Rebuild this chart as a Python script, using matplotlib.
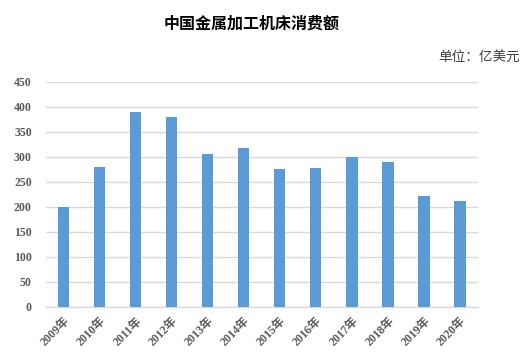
import matplotlib
matplotlib.use("Agg")
import matplotlib.pyplot as plt

years = ["2009年", "2010年", "2011年", "2012年", "2013年", "2014年",
         "2015年", "2016年", "2017年", "2018年", "2019年", "2020年"]
values = [200, 280, 389, 379, 305, 318, 275, 278, 300, 290, 222, 212]
y_ticks = [0, 50, 100, 150, 200, 250, 300, 350, 400, 450]

title = "中国金属加工机床消费额"
unit = "单位：亿美元"

fam = ["Liberation Serif", "Noto Sans CJK SC"]

fig = plt.figure(figsize=(5.23, 3.58), dpi=100)
ax = fig.add_axes([0.0874, 0.1433, 0.8266, 0.6277])

x = range(len(years))
ax.bar(x, values, width=0.31, color="#5B9BD5", zorder=3)

ax.set_xlim(-0.5, len(years) - 0.5)
ax.set_ylim(0, 450)
ax.set_yticks(y_ticks)
ax.set_yticklabels([str(v) for v in y_ticks], family=fam, fontsize=8.5,
                   fontweight="bold", color="#595959")
ax.set_xticks(list(x))
ax.set_xticklabels(years, family=fam, fontsize=8.5, fontweight="bold",
                   color="#595959", rotation=45, ha="right",
                   rotation_mode="anchor")
ax.tick_params(axis="both", length=0)
ax.tick_params(axis="y", pad=10)
ax.tick_params(axis="x", pad=6)

ax.grid(axis="y", color="#D9D9D9", linewidth=1.0, zorder=0)
for s in ["top", "right", "left"]:
    ax.spines[s].set_visible(False)
ax.spines["bottom"].set_color("#D9D9D9")
ax.spines["bottom"].set_linewidth(1.0)

fig.text(0.481, 0.935, title, ha="center", va="center", fontsize=11.5,
         fontweight="bold", family=["Noto Sans CJK SC"], color="#000000")
fig.text(0.995, 0.838, unit, ha="right", va="center", fontsize=9.8,
         family=["Noto Sans CJK SC"], color="#404040")

fig.savefig("out.png", dpi=100, facecolor="white")
